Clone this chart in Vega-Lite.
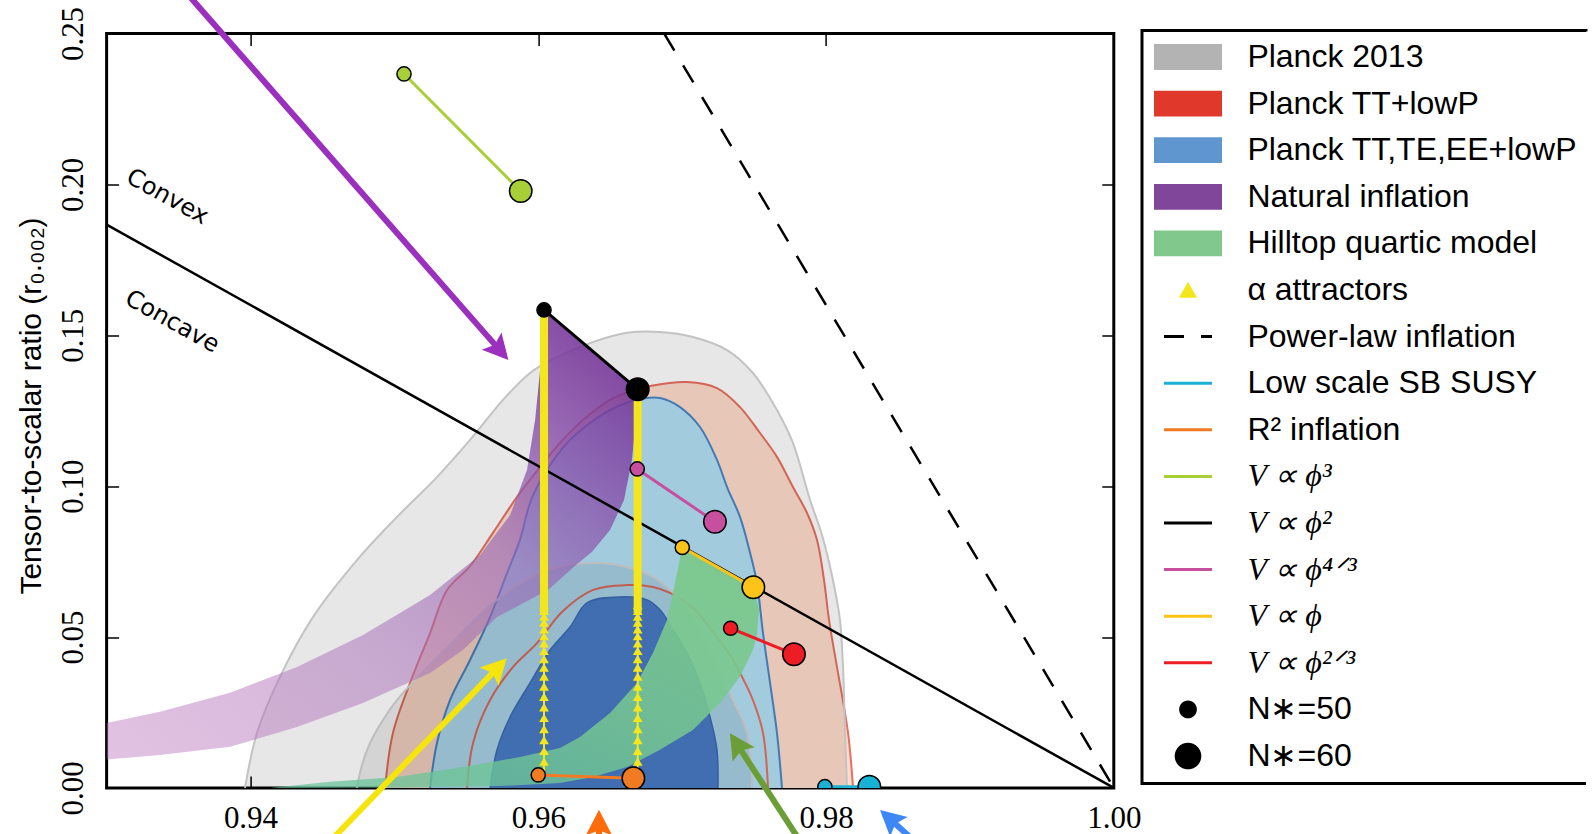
{
  "$schema": "https://vega.github.io/schema/vega-lite/v6.json",
  "autosize": {"type": "none"},
  "padding": {"left": 106.6, "top": 33.5, "right": 500, "bottom": 60},
  "width": 1007.2,
  "height": 754.4,
  "config": {
    "view": {"stroke": "#000000", "strokeWidth": 3},
    "axis": {"domain": false, "grid": false, "tickColor": "#000000", "tickWidth": 1.5, "labelColor": "#000000", "titleColor": "#000000"},
    "legend": {
      "orient": "none", "legendX": 1035.4, "legendY": -3, "padding": 8.5,
      "strokeColor": "#000000", "strokeWidth": 3, "strokeDash": [445, 752, 1200],
      "labelFont": "Liberation Sans", "labelFontSize": 32, "labelColor": "#000000", "labelLimit": 900,
      "labelOffset": 33.9, "symbolOffset": 12, "symbolSize": 2304, "symbolStrokeWidth": 3,
      "rowPadding": 10.6, "clipHeight": 36,
      "symbolFillColor": "transparent", "symbolStrokeColor": "transparent", "symbolOpacity": 1
    }
  },
  "datasets": {
    "contours": [
      {"c":"r95","i":0,"x":0.94935,"y":0},{"c":"r95","i":1,"x":0.9499,"y":0.0182},{"c":"r95","i":2,"x":0.95109,"y":0.0348},{"c":"r95","i":3,"x":0.95248,"y":0.0513},{"c":"r95","i":4,"x":0.95366,"y":0.0656},{"c":"r95","i":5,"x":0.95526,"y":0.0735},{"c":"r95","i":6,"x":0.95685,"y":0.0845},{"c":"r95","i":7,"x":0.95852,"y":0.0964},{"c":"r95","i":8,"x":0.96012,"y":0.1063},{"c":"r95","i":9,"x":0.96151,"y":0.1143},{"c":"r95","i":10,"x":0.96311,"y":0.1219},{"c":"r95","i":11,"x":0.96499,"y":0.1286},{"c":"r95","i":12,"x":0.96638,"y":0.1315},{"c":"r95","i":13,"x":0.96777,"y":0.1332},{"c":"r95","i":14,"x":0.97034,"y":0.1345},{"c":"r95","i":15,"x":0.97242,"y":0.1325},{"c":"r95","i":16,"x":0.97402,"y":0.1262},{"c":"r95","i":17,"x":0.97541,"y":0.1176},{"c":"r95","i":18,"x":0.97659,"y":0.1097},{"c":"r95","i":19,"x":0.9777,"y":0.0997},{"c":"r95","i":20,"x":0.97868,"y":0.0911},{"c":"r95","i":21,"x":0.97937,"y":0.0822},{"c":"r95","i":22,"x":0.97986,"y":0.0689},{"c":"r95","i":23,"x":0.98021,"y":0.0556},{"c":"r95","i":24,"x":0.98076,"y":0.0401},{"c":"r95","i":25,"x":0.98153,"y":0.0182},{"c":"r95","i":26,"x":0.98188,"y":0},
      {"c":"r68","i":0,"x":0.95505,"y":0},{"c":"r68","i":1,"x":0.95547,"y":0.0149},{"c":"r68","i":2,"x":0.95665,"y":0.0291},{"c":"r68","i":3,"x":0.95825,"y":0.0401},{"c":"r68","i":4,"x":0.95991,"y":0.048},{"c":"r68","i":5,"x":0.96165,"y":0.0583},{"c":"r68","i":6,"x":0.96381,"y":0.0656},{"c":"r68","i":7,"x":0.96617,"y":0.0672},{"c":"r68","i":8,"x":0.96797,"y":0.0666},{"c":"r68","i":9,"x":0.96916,"y":0.0646},{"c":"r68","i":10,"x":0.97089,"y":0.059},{"c":"r68","i":11,"x":0.97228,"y":0.0507},{"c":"r68","i":12,"x":0.97333,"y":0.044},{"c":"r68","i":13,"x":0.97402,"y":0.0381},{"c":"r68","i":14,"x":0.97492,"y":0.0291},{"c":"r68","i":15,"x":0.97562,"y":0.0182},{"c":"r68","i":16,"x":0.97597,"y":0},
      {"c":"b95","i":0,"x":0.95248,"y":0},{"c":"b95","i":1,"x":0.95296,"y":0.0149},{"c":"b95","i":2,"x":0.95387,"y":0.0291},{"c":"b95","i":3,"x":0.95526,"y":0.0424},{"c":"b95","i":4,"x":0.95665,"y":0.0566},{"c":"b95","i":5,"x":0.95783,"y":0.0712},{"c":"b95","i":6,"x":0.95873,"y":0.0822},{"c":"b95","i":7,"x":0.9595,"y":0.0954},{"c":"b95","i":8,"x":0.96061,"y":0.1054},{"c":"b95","i":9,"x":0.962,"y":0.1143},{"c":"b95","i":10,"x":0.9636,"y":0.1209},{"c":"b95","i":11,"x":0.96499,"y":0.1252},{"c":"b95","i":12,"x":0.96686,"y":0.1286},{"c":"b95","i":13,"x":0.96846,"y":0.1292},{"c":"b95","i":14,"x":0.96985,"y":0.1262},{"c":"b95","i":15,"x":0.97124,"y":0.1196},{"c":"b95","i":16,"x":0.97242,"y":0.1087},{"c":"b95","i":17,"x":0.97312,"y":0.0997},{"c":"b95","i":18,"x":0.97402,"y":0.0898},{"c":"b95","i":19,"x":0.97472,"y":0.0779},{"c":"b95","i":20,"x":0.9752,"y":0.0679},{"c":"b95","i":21,"x":0.97562,"y":0.0513},{"c":"b95","i":22,"x":0.97611,"y":0.0348},{"c":"b95","i":23,"x":0.97659,"y":0.0182},{"c":"b95","i":24,"x":0.97694,"y":0},
      {"c":"b68","i":0,"x":0.95665,"y":0},{"c":"b68","i":1,"x":0.95713,"y":0.0126},{"c":"b68","i":2,"x":0.95804,"y":0.0235},{"c":"b68","i":3,"x":0.95943,"y":0.0348},{"c":"b68","i":4,"x":0.96082,"y":0.0457},{"c":"b68","i":5,"x":0.96221,"y":0.0533},{"c":"b68","i":6,"x":0.96339,"y":0.0613},{"c":"b68","i":7,"x":0.96568,"y":0.0633},{"c":"b68","i":8,"x":0.96756,"y":0.0623},{"c":"b68","i":9,"x":0.96846,"y":0.059},{"c":"b68","i":10,"x":0.96937,"y":0.0523},{"c":"b68","i":11,"x":0.97041,"y":0.044},{"c":"b68","i":12,"x":0.97124,"y":0.0348},{"c":"b68","i":13,"x":0.97194,"y":0.0235},{"c":"b68","i":14,"x":0.97242,"y":0.0126},{"c":"b68","i":15,"x":0.97249,"y":0},
      {"c":"g95","i":0,"x":0.93962,"y":0},{"c":"g95","i":1,"x":0.94045,"y":0.0182},{"c":"g95","i":2,"x":0.94205,"y":0.0368},{"c":"g95","i":3,"x":0.94434,"y":0.0566},{"c":"g95","i":4,"x":0.9474,"y":0.0755},{"c":"g95","i":5,"x":0.95018,"y":0.0898},{"c":"g95","i":6,"x":0.95296,"y":0.103},{"c":"g95","i":7,"x":0.95526,"y":0.1153},{"c":"g95","i":8,"x":0.95755,"y":0.1286},{"c":"g95","i":9,"x":0.95943,"y":0.1375},{"c":"g95","i":10,"x":0.96061,"y":0.1411},{"c":"g95","i":11,"x":0.9636,"y":0.1474},{"c":"g95","i":12,"x":0.96617,"y":0.1508},{"c":"g95","i":13,"x":0.96846,"y":0.1511},{"c":"g95","i":14,"x":0.97075,"y":0.1494},{"c":"g95","i":15,"x":0.97312,"y":0.1451},{"c":"g95","i":16,"x":0.97492,"y":0.1375},{"c":"g95","i":17,"x":0.97659,"y":0.1252},{"c":"g95","i":18,"x":0.9777,"y":0.1143},{"c":"g95","i":19,"x":0.97889,"y":0.0954},{"c":"g95","i":20,"x":0.97972,"y":0.0838},{"c":"g95","i":21,"x":0.98048,"y":0.0689},{"c":"g95","i":22,"x":0.98097,"y":0.0556},{"c":"g95","i":23,"x":0.98118,"y":0.0401},{"c":"g95","i":24,"x":0.98132,"y":0.0182},{"c":"g95","i":25,"x":0.98146,"y":0},
      {"c":"g68","i":0,"x":0.9474,"y":0},{"c":"g68","i":1,"x":0.94775,"y":0.0076},{"c":"g68","i":2,"x":0.94831,"y":0.0149},{"c":"g68","i":3,"x":0.94921,"y":0.0225},{"c":"g68","i":4,"x":0.95018,"y":0.0291},{"c":"g68","i":5,"x":0.95178,"y":0.0374},{"c":"g68","i":6,"x":0.95387,"y":0.0474},{"c":"g68","i":7,"x":0.95713,"y":0.0623},{"c":"g68","i":8,"x":0.95943,"y":0.0696},{"c":"g68","i":9,"x":0.96207,"y":0.0739},{"c":"g68","i":10,"x":0.96429,"y":0.0745},{"c":"g68","i":11,"x":0.96617,"y":0.0732},{"c":"g68","i":12,"x":0.96797,"y":0.0699},{"c":"g68","i":13,"x":0.96985,"y":0.0623},{"c":"g68","i":14,"x":0.97124,"y":0.0523},{"c":"g68","i":15,"x":0.97228,"y":0.0424},{"c":"g68","i":16,"x":0.97298,"y":0.0348},{"c":"g68","i":17,"x":0.97353,"y":0.0291},{"c":"g68","i":18,"x":0.97451,"y":0.0182},{"c":"g68","i":19,"x":0.97486,"y":0}
    ],
    "bands": [
      {"b":"nat","i":0,"x":0.93,"y":0.0215},{"b":"nat","i":1,"x":0.93371,"y":0.0252},{"b":"nat","i":2,"x":0.93858,"y":0.0315},{"b":"nat","i":3,"x":0.94323,"y":0.0401},{"b":"nat","i":4,"x":0.94782,"y":0.0507},{"b":"nat","i":5,"x":0.95248,"y":0.0639},{"b":"nat","i":6,"x":0.95595,"y":0.0772},{"b":"nat","i":7,"x":0.95804,"y":0.0904},{"b":"nat","i":8,"x":0.95922,"y":0.1054},{"b":"nat","i":9,"x":0.95978,"y":0.1219},{"b":"nat","i":10,"x":0.96013,"y":0.1385},{"b":"nat","i":11,"x":0.9604,"y":0.1584},{"b":"nat","i":12,"x":0.96691,"y":0.1321},{"b":"nat","i":13,"x":0.96679,"y":0.1219},{"b":"nat","i":14,"x":0.96651,"y":0.1087},{"b":"nat","i":15,"x":0.96596,"y":0.0954},{"b":"nat","i":16,"x":0.96499,"y":0.0855},{"b":"nat","i":17,"x":0.96373,"y":0.0782},{"b":"nat","i":18,"x":0.96262,"y":0.0739},{"b":"nat","i":19,"x":0.96068,"y":0.0656},{"b":"nat","i":20,"x":0.95713,"y":0.0566},{"b":"nat","i":21,"x":0.95477,"y":0.0457},{"b":"nat","i":22,"x":0.95248,"y":0.0381},{"b":"nat","i":23,"x":0.94782,"y":0.0281},{"b":"nat","i":24,"x":0.94323,"y":0.0202},{"b":"nat","i":25,"x":0.93858,"y":0.0136},{"b":"nat","i":26,"x":0.93371,"y":0.0109},{"b":"nat","i":27,"x":0.93,"y":0.0094},
      {"b":"hill","i":0,"x":0.97001,"y":0.0797},{"b":"hill","i":1,"x":0.97495,"y":0.0665},{"b":"hill","i":2,"x":0.97534,"y":0.059},{"b":"hill","i":3,"x":0.9752,"y":0.0507},{"b":"hill","i":4,"x":0.97492,"y":0.0457},{"b":"hill","i":5,"x":0.97402,"y":0.0368},{"b":"hill","i":6,"x":0.97263,"y":0.0281},{"b":"hill","i":7,"x":0.97075,"y":0.0192},{"b":"hill","i":8,"x":0.96846,"y":0.0126},{"b":"hill","i":9,"x":0.96617,"y":0.0069},{"b":"hill","i":10,"x":0.96381,"y":0.0036},{"b":"hill","i":11,"x":0.96151,"y":0.0016},{"b":"hill","i":12,"x":0.95734,"y":0.0006},{"b":"hill","i":13,"x":0.95039,"y":0.0001},{"b":"hill","i":14,"x":0.94136,"y":0},{"b":"hill","i":15,"x":0.94553,"y":0.002},{"b":"hill","i":16,"x":0.95018,"y":0.0036},{"b":"hill","i":17,"x":0.95477,"y":0.0069},{"b":"hill","i":18,"x":0.95873,"y":0.0102},{"b":"hill","i":19,"x":0.96151,"y":0.0132},{"b":"hill","i":20,"x":0.9629,"y":0.0169},{"b":"hill","i":21,"x":0.96499,"y":0.0248},{"b":"hill","i":22,"x":0.96686,"y":0.0348},{"b":"hill","i":23,"x":0.96797,"y":0.0447},{"b":"hill","i":24,"x":0.96895,"y":0.0556},{"b":"hill","i":25,"x":0.9695,"y":0.0679}
    ],
    "models": [
      {"model":"phi3","N":50,"x":0.95067,"y":0.2366},{"model":"phi3","N":60,"x":0.95878,"y":0.1978},
      {"model":"phi2","N":50,"x":0.9604,"y":0.1584},{"model":"phi2","N":60,"x":0.96691,"y":0.1321},
      {"model":"phi43","N":50,"x":0.96688,"y":0.1057},{"model":"phi43","N":60,"x":0.97228,"y":0.0882},
      {"model":"phi1","N":50,"x":0.97001,"y":0.0797},{"model":"phi1","N":60,"x":0.97495,"y":0.0665},
      {"model":"phi23","N":50,"x":0.97337,"y":0.0529},{"model":"phi23","N":60,"x":0.97777,"y":0.0443},
      {"model":"R2","N":50,"x":0.96,"y":0.0043},{"model":"R2","N":60,"x":0.96661,"y":0.0032},
      {"model":"SUSY","N":50,"x":0.97992,"y":0.0004},{"model":"SUSY","N":60,"x":0.98301,"y":0.0004}
    ],
    "alpha": [
      {"N":50,"x":0.9604,"y":0.0087},{"N":50,"x":0.9604,"y":0.0123},{"N":50,"x":0.9604,"y":0.0159},{"N":50,"x":0.9604,"y":0.0195},{"N":50,"x":0.9604,"y":0.0232},{"N":50,"x":0.9604,"y":0.0267},{"N":50,"x":0.9604,"y":0.0302},{"N":50,"x":0.9604,"y":0.0336},{"N":50,"x":0.9604,"y":0.0369},{"N":50,"x":0.9604,"y":0.0399},{"N":50,"x":0.9604,"y":0.0427},{"N":50,"x":0.9604,"y":0.0454},{"N":50,"x":0.9604,"y":0.0479},{"N":50,"x":0.9604,"y":0.0503},{"N":50,"x":0.9604,"y":0.0526},{"N":50,"x":0.9604,"y":0.0548},{"N":50,"x":0.9604,"y":0.0568},{"N":50,"x":0.9604,"y":0.0587},{"N":50,"x":0.9604,"y":0.0606},
      {"N":60,"x":0.96691,"y":0.0087},{"N":60,"x":0.96691,"y":0.0123},{"N":60,"x":0.96691,"y":0.0159},{"N":60,"x":0.96691,"y":0.0195},{"N":60,"x":0.96691,"y":0.0232},{"N":60,"x":0.96691,"y":0.0267},{"N":60,"x":0.96691,"y":0.0302},{"N":60,"x":0.96691,"y":0.0336},{"N":60,"x":0.96691,"y":0.0369},{"N":60,"x":0.96691,"y":0.0399},{"N":60,"x":0.96691,"y":0.0427},{"N":60,"x":0.96691,"y":0.0454},{"N":60,"x":0.96691,"y":0.0479},{"N":60,"x":0.96691,"y":0.0503},{"N":60,"x":0.96691,"y":0.0526},{"N":60,"x":0.96691,"y":0.0548},{"N":60,"x":0.96691,"y":0.0568},{"N":60,"x":0.96691,"y":0.0587},{"N":60,"x":0.96691,"y":0.0606}
    ],
    "alphaLines": [
      {"N":50,"part":"thin","x":0.9604,"lo":0.0043,"hi":0.0606},
      {"N":60,"part":"thin","x":0.96691,"lo":0.0032,"hi":0.0606},
      {"N":50,"part":"thick","x":0.9604,"lo":0.058,"hi":0.1584},
      {"N":60,"part":"thick","x":0.96691,"lo":0.058,"hi":0.1321}
    ],
    "reflines": [
      {"name":"convex","x":0.93,"y":0.18667,"x2":1.0,"y2":0},
      {"name":"powerlaw","x":0.96875,"y":0.25,"x2":1.0,"y2":0}
    ],
    "arrows": [
      {"name":"purple","x":0.93538,"y":0.2644,"x2":0.95767,"y2":0.14316},
      {"name":"yellow","x":0.94495,"y":-0.0206,"x2":0.95754,"y2":0.04162},
      {"name":"green","x":0.9786,"y":-0.0206,"x2":0.97353,"y2":0.01657},
      {"name":"blue","x":0.98683,"y":-0.0206,"x2":0.98404,"y2":-0.00855},
      {"name":"orange","x":0.96422,"y":-0.0272,"x2":0.96422,"y2":-0.00911}
    ],
    "labels": [
      {"text":"Convex","x":0.93422,"y":0.1958},
      {"text":"Concave","x":0.93455,"y":0.1544}
    ],
    "legend": [
      {"key":"Planck 2013"},{"key":"Planck TT+lowP"},{"key":"Planck TT,TE,EE+lowP"},{"key":"Natural inflation"},{"key":"Hilltop quartic model"},{"key":"α attractors"},{"key":"Power-law inflation"},{"key":"Low scale SB SUSY"},{"key":"R² inflation"},{"key":"V ∝ ϕ³"},{"key":"V ∝ ϕ²"},{"key":"V ∝ ϕ⁴ᐟ³"},{"key":"V ∝ ϕ"},{"key":"V ∝ ϕ²ᐟ³"},{"key":"N∗=50"},{"key":"N∗=60"}
    ]
  },
  "layer": [
    {
      "layer": [
        {
          "data": {"name": "contours"},
          "transform": [{"filter": "datum.c == 'r95'"}],
          "mark": {"type": "line", "interpolate": "catmull-rom", "fill": "#ffdccc", "stroke": "#e8705f", "strokeWidth": 2, "clip": true},
          "encoding": {
            "x": {"field": "x", "type": "quantitative", "scale": {"domain": [0.93, 1.0], "nice": false, "zero": false},
              "axis": {"orient": "bottom", "values": [0.94, 0.96, 0.98, 1.0], "format": ".2f", "title": null, "labelFont": "Liberation Serif", "labelFontSize": 31, "labelBaseline": "alphabetic", "labelPadding": 51.4, "tickSize": -12, "labelFlush": false, "labelOverlap": false, "labelBound": false}},
            "y": {"field": "y", "type": "quantitative", "scale": {"domain": [0, 0.25], "nice": false, "zero": false},
              "axis": {"orient": "left", "values": [0, 0.05, 0.1, 0.15, 0.2, 0.25], "format": ".2f", "title": "Tensor-to-scalar ratio (r₀.₀₀₂)", "labelFont": "Liberation Serif", "labelFontSize": 31, "labelAngle": 270, "labelAlign": "center", "labelBaseline": "alphabetic", "labelPadding": 36.6, "tickSize": -12, "labelFlush": false, "labelOverlap": false, "labelBound": false, "titleFont": "Liberation Sans", "titleFontSize": 30, "titleFontWeight": "normal", "titleAngle": 270, "titleAlign": "center", "titleBaseline": "alphabetic", "titleX": -66.6, "titleY": 372}},
            "order": {"field": "i", "type": "quantitative"}
          }
        },
        {
          "data": {"name": "contours"},
          "transform": [{"filter": "datum.c == 'b95'"}],
          "mark": {"type": "line", "interpolate": "catmull-rom", "fill": "#b4e0f6", "stroke": "#4a87c9", "strokeWidth": 2, "clip": true},
          "encoding": {"x": {"field": "x", "type": "quantitative"}, "y": {"field": "y", "type": "quantitative"}, "order": {"field": "i", "type": "quantitative"}}
        },
        {
          "data": {"name": "contours"},
          "transform": [{"filter": "datum.c == 'r68'"}],
          "mark": {"type": "line", "interpolate": "catmull-rom", "stroke": "#e8705f", "strokeWidth": 2, "clip": true},
          "encoding": {"x": {"field": "x", "type": "quantitative"}, "y": {"field": "y", "type": "quantitative"}, "order": {"field": "i", "type": "quantitative"}}
        },
        {
          "data": {"name": "contours"},
          "transform": [{"filter": "datum.c == 'b68'"}],
          "mark": {"type": "line", "interpolate": "catmull-rom", "fill": "#4f84d6", "stroke": "#3f74c2", "strokeWidth": 1.5, "clip": true},
          "encoding": {"x": {"field": "x", "type": "quantitative"}, "y": {"field": "y", "type": "quantitative"}, "order": {"field": "i", "type": "quantitative"}}
        },
        {
          "data": {"name": "contours"},
          "transform": [{"filter": "datum.c == 'g95'"}],
          "mark": {"type": "line", "interpolate": "catmull-rom", "fill": "#000000", "fillOpacity": 0.095, "stroke": "#c3c3c3", "strokeWidth": 2, "clip": true},
          "encoding": {"x": {"field": "x", "type": "quantitative"}, "y": {"field": "y", "type": "quantitative"}, "order": {"field": "i", "type": "quantitative"}}
        },
        {
          "data": {"name": "contours"},
          "transform": [{"filter": "datum.c == 'g68'"}],
          "mark": {"type": "line", "interpolate": "catmull-rom", "fill": "#000000", "fillOpacity": 0.08, "stroke": "#bdbdbd", "strokeWidth": 2, "clip": true},
          "encoding": {"x": {"field": "x", "type": "quantitative"}, "y": {"field": "y", "type": "quantitative"}, "order": {"field": "i", "type": "quantitative"}}
        },
        {
          "data": {"name": "bands"},
          "transform": [{"filter": "datum.b == 'nat'"}],
          "mark": {"type": "line", "interpolate": "linear", "stroke": "transparent", "clip": true,
            "fill": {"gradient": "linear", "x1": 1, "y1": 0, "x2": 0, "y2": 1, "stops": [
              {"offset": 0, "color": "rgba(105,35,140,0.92)"},
              {"offset": 0.2, "color": "rgba(130,70,165,0.8)"},
              {"offset": 0.4, "color": "rgba(150,100,180,0.62)"},
              {"offset": 0.65, "color": "rgba(170,110,185,0.5)"},
              {"offset": 1, "color": "rgba(190,120,190,0.45)"}]}},
          "encoding": {"x": {"field": "x", "type": "quantitative"}, "y": {"field": "y", "type": "quantitative"}, "order": {"field": "i", "type": "quantitative"}}
        },
        {
          "data": {"name": "bands"},
          "transform": [{"filter": "datum.b == 'hill'"}],
          "mark": {"type": "line", "interpolate": "linear", "stroke": "transparent", "clip": true,
            "fill": {"gradient": "linear", "x1": 1, "y1": 0, "x2": 0, "y2": 1, "stops": [
              {"offset": 0, "color": "rgba(125,200,138,0.96)"},
              {"offset": 0.5, "color": "rgba(118,200,145,0.85)"},
              {"offset": 1, "color": "rgba(100,195,155,0.7)"}]}},
          "encoding": {"x": {"field": "x", "type": "quantitative"}, "y": {"field": "y", "type": "quantitative"}, "order": {"field": "i", "type": "quantitative"}}
        },
        {
          "data": {"name": "reflines"},
          "transform": [{"filter": "datum.name == 'convex'"}],
          "mark": {"type": "rule", "color": "#000000", "strokeWidth": 2.5, "clip": true},
          "encoding": {"x": {"field": "x", "type": "quantitative"}, "y": {"field": "y", "type": "quantitative"}, "x2": {"field": "x2"}, "y2": {"field": "y2"}}
        },
        {
          "data": {"name": "alphaLines"},
          "transform": [{"filter": "datum.part == 'thin'"}],
          "mark": {"type": "rule", "color": "#f4e61c", "strokeWidth": 2},
          "encoding": {"x": {"field": "x", "type": "quantitative"}, "y": {"field": "lo", "type": "quantitative"}, "y2": {"field": "hi"}}
        },
        {
          "data": {"name": "alphaLines"},
          "transform": [{"filter": "datum.part == 'thick'"}],
          "mark": {"type": "rule", "color": "#f4e61c", "strokeWidth": 8},
          "encoding": {"x": {"field": "x", "type": "quantitative"}, "y": {"field": "lo", "type": "quantitative"}, "y2": {"field": "hi"}}
        },
        {
          "data": {"name": "alpha"},
          "mark": {"type": "point", "shape": "triangle-up", "filled": true, "size": 95, "color": "#f4e61c", "opacity": 1},
          "encoding": {"x": {"field": "x", "type": "quantitative"}, "y": {"field": "y", "type": "quantitative"}}
        },
        {
          "data": {"name": "models"},
          "mark": {"type": "line", "strokeWidth": 3, "clip": true},
          "encoding": {
            "x": {"field": "x", "type": "quantitative"}, "y": {"field": "y", "type": "quantitative"},
            "color": {"field": "model", "type": "nominal", "legend": null, "scale": {"domain": ["phi3","phi2","phi43","phi1","phi23","R2","SUSY"], "range": ["#a8cf38","#000000","#c7509e","#fcc419","#ee1c25","#f07b22","#1ab2d4"]}},
            "order": {"field": "N", "type": "quantitative"}
          }
        },
        {
          "data": {"name": "models"},
          "transform": [{"filter": "datum.N == 50"}],
          "mark": {"type": "point", "filled": true, "size": 200, "stroke": "#000000", "strokeWidth": 1.5, "opacity": 1, "clip": true},
          "encoding": {"x": {"field": "x", "type": "quantitative"}, "y": {"field": "y", "type": "quantitative"}, "color": {"field": "model", "type": "nominal", "legend": null}}
        },
        {
          "data": {"name": "models"},
          "transform": [{"filter": "datum.N == 60"}],
          "mark": {"type": "point", "filled": true, "size": 506, "stroke": "#000000", "strokeWidth": 1.5, "opacity": 1, "clip": true},
          "encoding": {"x": {"field": "x", "type": "quantitative"}, "y": {"field": "y", "type": "quantitative"}, "color": {"field": "model", "type": "nominal", "legend": null}}
        },
        {
          "data": {"name": "labels"},
          "mark": {"type": "text", "font": "DejaVu Sans", "fontSize": 24, "angle": 29, "align": "center", "baseline": "middle", "color": "#000000"},
          "encoding": {"x": {"field": "x", "type": "quantitative"}, "y": {"field": "y", "type": "quantitative"}, "text": {"field": "text"}}
        },
        {
          "data": {"name": "arrows"},
          "transform": [{"filter": "datum.name == 'purple'"}],
          "layer": [
            {"mark": {"type": "rule", "color": "#9b30be", "strokeWidth": 6}, "encoding": {"x": {"field": "x", "type": "quantitative"}, "y": {"field": "y", "type": "quantitative"}, "x2": {"field": "x2"}, "y2": {"field": "y2"}}},
            {"mark": {"type": "point", "shape": "M0,-0.35L0.83,1.25L0,0.95L-0.83,1.25Z", "size": 1000, "filled": true, "color": "#9b30be", "opacity": 1, "angle": 138.4}, "encoding": {"x": {"field": "x2", "type": "quantitative"}, "y": {"field": "y2", "type": "quantitative"}}}
          ]
        },
        {
          "data": {"name": "arrows"},
          "transform": [{"filter": "datum.name == 'yellow'"}],
          "layer": [
            {"mark": {"type": "rule", "color": "#f5e50c", "strokeWidth": 6}, "encoding": {"x": {"field": "x", "type": "quantitative"}, "y": {"field": "y", "type": "quantitative"}, "x2": {"field": "x2"}, "y2": {"field": "y2"}}},
            {"mark": {"type": "point", "shape": "M0,-0.35L0.83,1.25L0,0.95L-0.83,1.25Z", "size": 1000, "filled": true, "color": "#f5e50c", "opacity": 1, "angle": 43.9}, "encoding": {"x": {"field": "x2", "type": "quantitative"}, "y": {"field": "y2", "type": "quantitative"}}}
          ]
        },
        {
          "data": {"name": "arrows"},
          "transform": [{"filter": "datum.name == 'green'"}],
          "layer": [
            {"mark": {"type": "rule", "color": "#6c9e38", "strokeWidth": 6}, "encoding": {"x": {"field": "x", "type": "quantitative"}, "y": {"field": "y", "type": "quantitative"}, "x2": {"field": "x2"}, "y2": {"field": "y2"}}},
            {"mark": {"type": "point", "shape": "M0,-0.35L0.83,1.25L0,0.95L-0.83,1.25Z", "size": 1000, "filled": true, "color": "#6c9e38", "opacity": 1, "angle": -33}, "encoding": {"x": {"field": "x2", "type": "quantitative"}, "y": {"field": "y2", "type": "quantitative"}}}
          ]
        },
        {
          "data": {"name": "arrows"},
          "transform": [{"filter": "datum.name == 'blue'"}],
          "layer": [
            {"mark": {"type": "rule", "color": "#3e88f5", "strokeWidth": 6}, "encoding": {"x": {"field": "x", "type": "quantitative"}, "y": {"field": "y", "type": "quantitative"}, "x2": {"field": "x2"}, "y2": {"field": "y2"}}},
            {"mark": {"type": "point", "shape": "M0,-0.35L0.83,1.25L0,0.95L-0.83,1.25Z", "size": 1000, "filled": true, "color": "#3e88f5", "opacity": 1, "angle": -48.1}, "encoding": {"x": {"field": "x2", "type": "quantitative"}, "y": {"field": "y2", "type": "quantitative"}}}
          ]
        },
        {
          "data": {"name": "arrows"},
          "transform": [{"filter": "datum.name == 'orange'"}],
          "layer": [
            {"mark": {"type": "rule", "color": "#fe6b0a", "strokeWidth": 6}, "encoding": {"x": {"field": "x", "type": "quantitative"}, "y": {"field": "y", "type": "quantitative"}, "x2": {"field": "x2"}, "y2": {"field": "y2"}}},
            {"mark": {"type": "point", "shape": "M0,-0.35L0.83,1.25L0,0.95L-0.83,1.25Z", "size": 1000, "filled": true, "color": "#fe6b0a", "opacity": 1, "angle": 0}, "encoding": {"x": {"field": "x2", "type": "quantitative"}, "y": {"field": "y2", "type": "quantitative"}}}
          ]
        },
        {
          "data": {"name": "legend"},
          "transform": [{"filter": "false"}],
          "mark": {"type": "point", "filled": true, "opacity": 1},
          "encoding": {
            "fill": {"field": "key", "type": "nominal", "legend": {"title": null, "orient": "none", "legendX": 1035.4, "legendY": -3,
                "labelFont": {"expr": "slice(datum.label, 0, 2) == 'V ' ? 'Liberation Serif' : 'Liberation Sans'"},
                "labelFontStyle": {"expr": "slice(datum.label, 0, 2) == 'V ' ? 'italic' : 'normal'"}},
              "scale": {"domain": ["Planck 2013","Planck TT+lowP","Planck TT,TE,EE+lowP","Natural inflation","Hilltop quartic model","α attractors","Power-law inflation","Low scale SB SUSY","R² inflation","V ∝ ϕ³","V ∝ ϕ²","V ∝ ϕ⁴ᐟ³","V ∝ ϕ","V ∝ ϕ²ᐟ³","N∗=50","N∗=60"],
                "range": ["#b3b3b3","#e0392b","#5f96cf","#7f4699","#80c88c","#f4e61c","transparent","transparent","transparent","transparent","transparent","transparent","transparent","transparent","#000000","#000000"]}},
            "stroke": {"field": "key", "type": "nominal", "legend": {"title": null, "orient": "none", "legendX": 1035.4, "legendY": -3,
                "labelFont": {"expr": "slice(datum.label, 0, 2) == 'V ' ? 'Liberation Serif' : 'Liberation Sans'"},
                "labelFontStyle": {"expr": "slice(datum.label, 0, 2) == 'V ' ? 'italic' : 'normal'"}},
              "scale": {"domain": ["Planck 2013","Planck TT+lowP","Planck TT,TE,EE+lowP","Natural inflation","Hilltop quartic model","α attractors","Power-law inflation","Low scale SB SUSY","R² inflation","V ∝ ϕ³","V ∝ ϕ²","V ∝ ϕ⁴ᐟ³","V ∝ ϕ","V ∝ ϕ²ᐟ³","N∗=50","N∗=60"],
                "range": ["transparent","transparent","transparent","transparent","transparent","transparent","#000000","#1ab2d4","#f07b22","#a8cf38","#000000","#c7509e","#fcc419","#ee1c25","transparent","transparent"]}},
            "shape": {"field": "key", "type": "nominal", "legend": {"title": null, "orient": "none", "legendX": 1035.4, "legendY": -3,
                "labelFont": {"expr": "slice(datum.label, 0, 2) == 'V ' ? 'Liberation Serif' : 'Liberation Sans'"},
                "labelFontStyle": {"expr": "slice(datum.label, 0, 2) == 'V ' ? 'italic' : 'normal'"}},
              "scale": {"domain": ["Planck 2013","Planck TT+lowP","Planck TT,TE,EE+lowP","Natural inflation","Hilltop quartic model","α attractors","Power-law inflation","Low scale SB SUSY","R² inflation","V ∝ ϕ³","V ∝ ϕ²","V ∝ ϕ⁴ᐟ³","V ∝ ϕ","V ∝ ϕ²ᐟ³","N∗=50","N∗=60"],
                "range": ["M-1.417,-0.538H1.417V0.538H-1.417Z","M-1.417,-0.538H1.417V0.538H-1.417Z","M-1.417,-0.538H1.417V0.538H-1.417Z","M-1.417,-0.538H1.417V0.538H-1.417Z","M-1.417,-0.538H1.417V0.538H-1.417Z","M0,-0.34L0.38,0.32L-0.38,0.32Z","M-1,0H1","M-1,0H1","M-1,0H1","M-1,0H1","M-1,0H1","M-1,0H1","M-1,0H1","M-1,0H1","M0.369,0A0.369,0.369,0,1,1,-0.369,0A0.369,0.369,0,1,1,0.369,0Z","M0.556,0A0.556,0.556,0,1,1,-0.556,0A0.556,0.556,0,1,1,0.556,0Z"]}},
            "strokeDash": {"field": "key", "type": "nominal", "legend": {"title": null, "orient": "none", "legendX": 1035.4, "legendY": -3,
                "labelFont": {"expr": "slice(datum.label, 0, 2) == 'V ' ? 'Liberation Serif' : 'Liberation Sans'"},
                "labelFontStyle": {"expr": "slice(datum.label, 0, 2) == 'V ' ? 'italic' : 'normal'"}},
              "scale": {"domain": ["Planck 2013","Planck TT+lowP","Planck TT,TE,EE+lowP","Natural inflation","Hilltop quartic model","α attractors","Power-law inflation","Low scale SB SUSY","R² inflation","V ∝ ϕ³","V ∝ ϕ²","V ∝ ϕ⁴ᐟ³","V ∝ ϕ","V ∝ ϕ²ᐟ³","N∗=50","N∗=60"],
                "range": [[1,0],[1,0],[1,0],[1,0],[1,0],[1,0],[20,17],[1,0],[1,0],[1,0],[1,0],[1,0],[1,0],[1,0],[1,0],[1,0]]}}
          }
        }
      ]
    },
    {
      "data": {"name": "reflines"},
      "transform": [{"filter": "datum.name == 'powerlaw'"}],
      "mark": {"type": "rule", "color": "#000000", "strokeWidth": 2.5, "strokeDash": [20, 17], "clip": true},
      "encoding": {
        "x": {"field": "x", "type": "quantitative", "scale": {"domain": [0.93, 1.0], "nice": false, "zero": false},
          "axis": {"orient": "top", "values": [0.94, 0.96, 0.98, 1.0], "labels": false, "tickSize": -12, "title": null}},
        "y": {"field": "y", "type": "quantitative", "scale": {"domain": [0, 0.25], "nice": false, "zero": false},
          "axis": {"orient": "right", "values": [0, 0.05, 0.1, 0.15, 0.2, 0.25], "labels": false, "tickSize": -12, "title": null}},
        "x2": {"field": "x2"}, "y2": {"field": "y2"}
      }
    }
  ]
}
